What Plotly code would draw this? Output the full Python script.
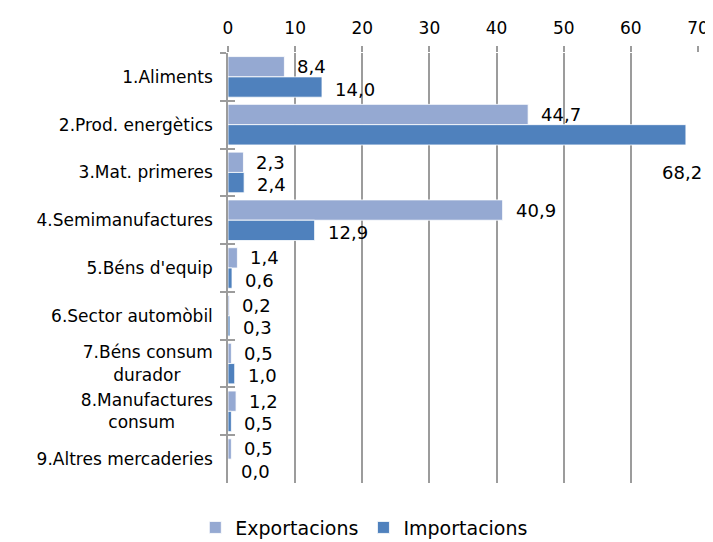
import plotly.graph_objects as go

categories = ["1.Aliments", "2.Prod. energètics", "3.Mat. primeres", "4.Semimanufactures",
              "5.Béns d'equip", "6.Sector automòbil",
              "7.Béns consum<br>durador" + "\u00a0" * 6,
              "8.Manufactures<br>consum" + "\u00a0" * 7,
              "9.Altres mercaderies"]
exportacions = [8.4, 44.7, 2.3, 40.9, 1.4, 0.2, 0.5, 1.2, 0.5]
importacions = [14.0, 68.2, 2.4, 12.9, 0.6, 0.3, 1.0, 0.5, 0.0]
x_ticks = [0, 10, 20, 30, 40, 50, 60, 70]

FONT = "DejaVu Sans"
C_EXP = "#95A9D2"
C_IMP = "#4F81BD"
GRID = "#9C9C9C"
BARGAP = 0.15
off = (1 - BARGAP) / 4

fig = go.Figure()
fig.add_trace(go.Bar(name="Exportacions", y=categories, x=exportacions, orientation="h",
                     marker=dict(color=C_EXP, line=dict(color="rgba(255,255,255,0.8)", width=1))))
fig.add_trace(go.Bar(name="Importacions", y=categories, x=importacions, orientation="h",
                     marker=dict(color=C_IMP, line=dict(color="rgba(255,255,255,0.8)", width=1))))
# dummy trace to carry inner halves of the category boundary ticks
fig.add_trace(go.Scatter(y=categories, x=[0] * len(categories), yaxis="y2", mode="markers",
                         marker=dict(opacity=0), showlegend=False, hoverinfo="skip"))

def fmt(v):
    return f"{v:.1f}".replace(".", ",")

annotations = []
xmax = x_ticks[-1]
for i, (e, m) in enumerate(zip(exportacions, importacions)):
    annotations.append(dict(x=e, y=i - off, xref="x", yref="y", text=fmt(e), showarrow=False,
                            xanchor="left", yanchor="middle", xshift=11,
                            font=dict(family=FONT, size=18, color="black")))
    if m > xmax - 8:
        annotations.append(dict(x=xmax, y=i + 1, xref="x", yref="y", text=fmt(m), showarrow=False,
                                xanchor="right", yanchor="middle", xshift=6,
                                font=dict(family=FONT, size=18, color="black")))
    else:
        annotations.append(dict(x=m, y=i + off, xref="x", yref="y", text=fmt(m), showarrow=False,
                                xanchor="left", yanchor="middle", xshift=11, yshift=-2,
                                font=dict(family=FONT, size=18, color="black")))

yrange = [len(categories) - 0.5, -0.5]
fig.update_layout(
    width=705, height=534,
    margin=dict(l=220, r=15, t=45, b=59, autoexpand=False),
    paper_bgcolor="white", plot_bgcolor="white",
    barmode="group", bargap=BARGAP, bargroupgap=0,
    font=dict(family=FONT, color="black"),
    xaxis=dict(side="top", range=[0, xmax], tickvals=x_ticks, showgrid=True, gridcolor=GRID,
               gridwidth=1.5, zeroline=False, showline=False, ticks="outside", ticklen=6,
               tickcolor=GRID, tickwidth=1.5, ticklabelstandoff=5, automargin=False,
               tickfont=dict(family=FONT, size=17, color="black")),
    yaxis=dict(type="category", categoryorder="array", categoryarray=categories, range=yrange,
               showline=True, linecolor=GRID, linewidth=1.5, showgrid=False, zeroline=False,
               ticks="outside", tickson="boundaries", ticklen=6, tickcolor=GRID, tickwidth=1.5,
               ticklabelstandoff=10, automargin=False,
               tickfont=dict(family=FONT, size=17, color="black")),
    yaxis2=dict(type="category", categoryorder="array", categoryarray=categories, range=yrange,
                overlaying="y", side="left", showline=False, showgrid=False, zeroline=False,
                ticks="inside", tickson="boundaries", ticklen=7, tickcolor=GRID, tickwidth=1.5,
                showticklabels=False, automargin=False),
    legend=dict(orientation="h", x=0.29, xanchor="center", yref="container", y=0.027,
                yanchor="middle", font=dict(family=FONT, size=19, color="black"),
                traceorder="normal"),
    annotations=annotations,
    showlegend=True,
)

fig.write_html("out.html")
